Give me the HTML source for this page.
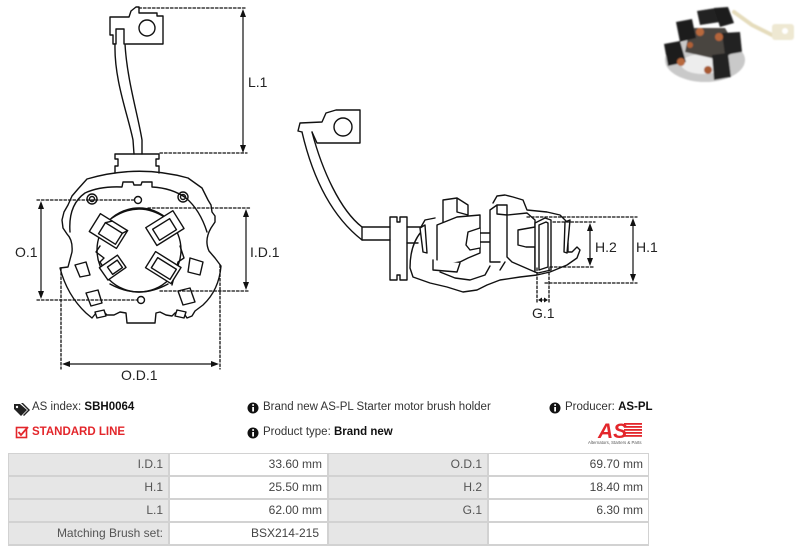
<!DOCTYPE html>
<html><head><meta charset="utf-8"><style>
html,body{margin:0;padding:0;background:#fff;width:800px;height:555px;overflow:hidden;position:relative;font-family:"Liberation Sans",Arial,sans-serif;}
.t{position:absolute;font-size:11.5px;line-height:14px;color:#333;white-space:nowrap;}
.t b{color:#111;}
.tbl{position:absolute;left:8px;top:453px;width:641px;height:93px;background:#d2d2d2;}
.c{position:absolute;height:21px;line-height:21px;font-size:12px;text-align:right;box-sizing:border-box;padding-right:5px;white-space:nowrap;}
.l{background:#e6e6e6;color:#555;}
.v{background:#fff;color:#444;}
</style></head><body>

<svg width="800" height="555" style="position:absolute;left:0;top:0" fill="none" stroke="#111" stroke-width="1.4" stroke-linejoin="round" stroke-linecap="round">
<defs><filter id="bl"><feGaussianBlur stdDeviation="0.7"/></filter></defs>

<!-- LEFT DRAWING -->
<path d="M126,44 L163,44 L163,16 L157,16 L157,13 L139,13 L139,7 L136,7 L131,11 L129,17 L110,17 L110,35 L113,35 L113,44 L115,44"/>
<path d="M116,44 L116,29 L124,29 L124,44"/>
<circle cx="147" cy="28" r="8"/>
<path d="M115,44 C114,80 128,115 133,140 L134,154"/>
<path d="M125,44 C127,80 138,115 142,140 L142,154"/>
<path d="M115,173 L115,166 L118,166 L118,159 L115,159 L115,154 L159,154 L159,159 L156,159 L156,166 L159,166 L159,173"/>
<path d="M87,179 Q138,164 188,178 L202,188 L208,200 L211,205 L212,212 L215,216 L215,222 L211,228 Q204,240 209,251 L215,258 L221,266 Q219,290 203,305 L195,311 L192,316 L187,318 L183,312 L175,313 L172,316 L166,315 L160,312 L156,313 L155,323 L127,323 L126,313 L120,312 L114,315 L107,315 L104,312 L96,313 L92,318 L86,313 Q67,295 60,268 L68,267 L72,252 Q73,240 67,234 L63,228 L62,220 L64,212 L68,205 L72,196 L78,189 Z"/>
<path d="M70,232 Q68,205 85,193 Q100,186 122,187 L123,182 L133,182 L134,185 L141,185 L142,182 L152,182 L152,187 Q172,188 186,198 Q200,210 207,232"/>
<circle cx="92" cy="199" r="5"/><circle cx="92" cy="199" r="2.5"/>
<circle cx="183" cy="197" r="5"/><circle cx="183" cy="197" r="2.5"/>
<circle cx="138" cy="200" r="3.5"/>
<circle cx="141" cy="300" r="3.5"/>
<path d="M112,218 Q139,200 166,218 M100,246 L96,252 L104,258 L100,262 L108,275 M180,246 L184,258 L178,262 L172,285 M110,284 Q139,300 168,284"/>
<circle cx="139" cy="250" r="42"/>
<g fill="#fff">
<g transform="translate(109,232) rotate(32)"><rect x="-17" y="-11" width="32" height="21"/><rect x="-8" y="-6" width="20" height="13"/><path d="M-8,-6 L-3,-11 M12,-6 L15,-11"/></g>
<g transform="translate(166,228) rotate(-32)"><rect x="-17" y="-11" width="32" height="21"/><rect x="-12" y="-6" width="20" height="13"/></g>
<g transform="translate(113,268) rotate(-35)"><rect x="-11" y="-8" width="22" height="15"/><rect x="-4" y="-4" width="12" height="9"/></g>
<g transform="translate(163,268) rotate(32)"><rect x="-15" y="-10" width="30" height="19"/><rect x="-10" y="-6" width="22" height="12"/></g>
<path d="M75,265 L86,262 L90,275 L80,277 Z"/>
<path d="M86,293 L98,290 L102,303 L91,306 Z"/>
<path d="M190,258 L203,262 L200,275 L188,272 Z"/>
<path d="M178,291 L190,288 L195,302 L183,305 Z"/>
<path d="M95,312 L104,310 L106,316 L97,318 Z"/>
<path d="M177,310 L186,312 L184,318 L175,316 Z"/>
</g>

<!-- left dims -->
<g stroke-width="1.3" stroke-dasharray="2.5,2">
<path d="M139,8 L247,8 M160,153 L247,153"/>
<path d="M37,200 L136,200 M37,300 L138,300"/>
<path d="M148,208 L250,208 M160,291 L250,291"/>
<path d="M61,268 L61,369 M220,265 L220,369"/>
</g>
<path d="M243,14 L243,147 M41,206 L41,294 M246,214 L246,285 M67,364 L214,364" stroke-width="1.2"/>
<g fill="#111" stroke="none">
<polygon points="243,9 240,17 246,17"/><polygon points="243,153 240,145 246,145"/>
<polygon points="41,201 38,209 44,209"/><polygon points="41,299 38,291 44,291"/>
<polygon points="246,209 243,217 249,217"/><polygon points="246,290 243,282 249,282"/>
<polygon points="62,364 70,361 70,367"/><polygon points="219,364 211,361 211,367"/>
</g>

<!-- RIGHT DRAWING -->
<path d="M317,143 L360,143 L360,110 L336,110 L326,113 L322,122 L300,123 L298,131 L302,132 M312,132 L317,143"/>
<circle cx="343" cy="127" r="9"/>
<path d="M302,132 C312,175 330,215 362,240 L390,240"/>
<path d="M312,132 C322,170 340,210 362,227 L390,227"/>
<path d="M362,227 L362,240"/>
<path d="M390,217 L397,217 L397,222 L400,222 L400,217 L407,217 L407,280 L400,280 L400,275 L397,275 L397,280 L390,280 Z"/>
<path d="M407,227 L421,227 M407,243 L418,243"/>
<path d="M421,232 Q410,245 410,268 L413,277 L430,283 L447,287 L463,292 L477,290 L487,285 L500,280 L520,277 L537,275 L550,272 L567,265 L577,258 L580,250 L577,247 L572,252 L568,252 L568,243"/>
<path d="M421,227 L425,220 L435,218 M480,233 L490,233 M480,242 L490,242"/>
<path d="M493,203 L497,196 L505,195 L513,197 L523,200 L527,210 L547,212 L560,215 L567,222"/>
<path d="M440,272 L455,278 L470,280 L485,275 L490,266 M500,270 L505,262"/>
<g fill="#fff">
<path d="M420,228 L425,225 L427,253 L423,252 Z"/>
<path d="M443,226 L443,200 L457,198 L468,205 L468,215 L457,212 L457,198"/>
<path d="M437,225 L457,217 L480,215 L480,253 L468,258 L460,262 L437,266 Z"/>
<path d="M480,228 L468,232 L466,245 L470,250 L480,248"/>
<path d="M433,260 L433,270 L457,272 L460,263"/>
<path d="M490,210 L497,205 L507,205 L507,215 L497,214 L497,205 M490,210 L490,262 L500,262"/>
<path d="M507,215 L527,213 L535,220 L535,272 L512,262 L507,257 Z"/>
<path d="M535,227 L518,230 L518,245 L526,247 L535,247"/>
<path d="M535,223 L545,218 L551,220 L551,270 L538,273 L535,272 Z"/>
<path d="M539,225 L546,222 L548,223 L548,267 L539,270 Z"/>
<path d="M565,222 L570,220 L567,253 L564,252 Z"/>
</g>

<!-- right dims -->
<g stroke-width="1.3" stroke-dasharray="2.5,2">
<path d="M527,217 L637,217 M545,283 L637,283"/>
<path d="M553,222 L595,222 M550,267 L595,267"/>
<path d="M537,268 L537,302 M549,268 L549,302"/>
</g>
<path d="M633,224 L633,276 M590,229 L590,260" stroke-width="1.2"/>
<g fill="#111" stroke="none">
<polygon points="633,218 630,226 636,226"/><polygon points="633,282 630,274 636,274"/>
<polygon points="590,223 587,231 593,231"/><polygon points="590,266 587,258 593,258"/>
<polygon points="538,300 542,297.5 542,302.5"/><polygon points="548,300 544,297.5 544,302.5"/>
</g>
<path d="M541,300 L545,300" stroke-width="1"/>

<g fill="#222" stroke="none" font-family="Liberation Sans, Arial, sans-serif" font-size="14">
<text x="248" y="87">L.1</text>
<text x="15" y="257">O.1</text>
<text x="250" y="257">I.D.1</text>
<text x="121" y="380">O.D.1</text>
<text x="595" y="252">H.2</text>
<text x="636" y="252">H.1</text>
<text x="532" y="318">G.1</text>
</g>

<!-- PHOTO -->
<g stroke="none" filter="url(#bl)">
<ellipse cx="705" cy="60" rx="40" ry="22" fill="#c9c9c9"/>
<ellipse cx="703" cy="64" rx="22" ry="10" fill="#ededed"/>
<path d="M690,28 L725,28 L738,50 L720,60 L685,52 Z" fill="#4a4440"/>
<polygon points="676,22 692,19 696,38 680,42" fill="#1e1e1e"/>
<polygon points="697,11 716,8 720,22 700,25" fill="#222"/>
<polygon points="714,8 728,7 734,23 720,27" fill="#1c1c1c"/>
<polygon points="722,33 740,32 742,52 725,55" fill="#222"/>
<polygon points="664,44 680,41 686,62 668,66" fill="#1e1e1e"/>
<polygon points="712,55 728,53 731,77 714,80" fill="#202020"/>
<circle cx="700" cy="32" r="4" fill="#b8693e"/>
<circle cx="719" cy="37" r="4" fill="#b5653a"/>
<circle cx="681" cy="62" r="4" fill="#b8693e"/>
<circle cx="708" cy="70" r="4" fill="#a85a33"/>
<circle cx="690" cy="45" r="3" fill="#b06035"/>
<path d="M734,12 L752,25 L772,35" stroke="#e5dcbc" stroke-width="4" fill="none"/>
<rect x="772" y="24" width="22" height="16" rx="3" fill="#eee8d2"/>
<circle cx="785" cy="31" r="3" fill="#fff"/>
</g>
</svg>

<!-- INFO ROW -->
<svg width="800" height="60" style="position:absolute;left:0;top:395px" stroke="none">
<path d="M14,9 L20,9 L27,15 L21,21 L14,14 Z" fill="#222"/>
<path d="M21,8 L23,8 L30,15 L24,21 L23,20 L28,15 Z" fill="#222"/>
<circle cx="17" cy="12" r="1.2" fill="#fff"/>
<rect x="16.5" y="32.5" width="10" height="10" fill="none" stroke="#e3262b" stroke-width="1.6"/>
<path d="M18.5,37 L21,40 L28,32" fill="none" stroke="#e3262b" stroke-width="1.8"/>
<circle cx="253" cy="13" r="5.5" fill="#111"/><rect x="252.2" y="12" width="1.8" height="4.5" fill="#fff"/><circle cx="253.1" cy="10" r="1" fill="#fff"/>
<circle cx="253" cy="38" r="5.5" fill="#111"/><rect x="252.2" y="37" width="1.8" height="4.5" fill="#fff"/><circle cx="253.1" cy="35" r="1" fill="#fff"/>
<circle cx="555" cy="13" r="5.5" fill="#111"/><rect x="554.2" y="12" width="1.8" height="4.5" fill="#fff"/><circle cx="555.1" cy="10" r="1" fill="#fff"/>
<g fill="#e3262b">
<rect x="624" y="28" width="18" height="1.8"/><rect x="624" y="31" width="18" height="1.8"/><rect x="624" y="34" width="18" height="1.8"/><rect x="624" y="37" width="18" height="1.8"/><rect x="624" y="40" width="18" height="1.8"/>
<text x="598" y="43" font-family="Liberation Sans, Arial, sans-serif" font-size="21" font-weight="bold" font-style="italic">AS</text>
</g>
<text x="588" y="49" font-family="Liberation Sans, Arial, sans-serif" font-size="4.3" fill="#555">Alternators, Starters &amp; Parts</text>
</svg>

<div class="t" style="left:32px;top:400px;">AS index: <b>SBH0064</b></div>
<div class="t" style="left:32px;top:425px;color:#e3262b;font-weight:bold;">STANDARD LINE</div>
<div class="t" style="left:263px;top:400px;">Brand new AS-PL Starter motor brush holder</div>
<div class="t" style="left:263px;top:425px;">Product type: <b>Brand new</b></div>
<div class="t" style="left:565px;top:400px;">Producer: <b>AS-PL</b></div>

<!-- TABLE -->
<div class="tbl">
<div class="c l" style="left:1px;top:1px;width:159px;">I.D.1</div>
<div class="c v" style="left:162px;top:1px;width:157px;">33.60 mm</div>
<div class="c l" style="left:321px;top:1px;width:158px;">O.D.1</div>
<div class="c v" style="left:481px;top:1px;width:159px;">69.70 mm</div>

<div class="c l" style="left:1px;top:24px;width:159px;">H.1</div>
<div class="c v" style="left:162px;top:24px;width:157px;">25.50 mm</div>
<div class="c l" style="left:321px;top:24px;width:158px;">H.2</div>
<div class="c v" style="left:481px;top:24px;width:159px;">18.40 mm</div>

<div class="c l" style="left:1px;top:47px;width:159px;">L.1</div>
<div class="c v" style="left:162px;top:47px;width:157px;">62.00 mm</div>
<div class="c l" style="left:321px;top:47px;width:158px;">G.1</div>
<div class="c v" style="left:481px;top:47px;width:159px;">6.30 mm</div>

<div class="c l" style="left:1px;top:70px;width:159px;">Matching Brush set:</div>
<div class="c v" style="left:162px;top:70px;width:157px;padding-right:8px;">BSX214-215</div>
<div class="c l" style="left:321px;top:70px;width:158px;"></div>
<div class="c v" style="left:481px;top:70px;width:159px;"></div>
</div>

</body></html>
